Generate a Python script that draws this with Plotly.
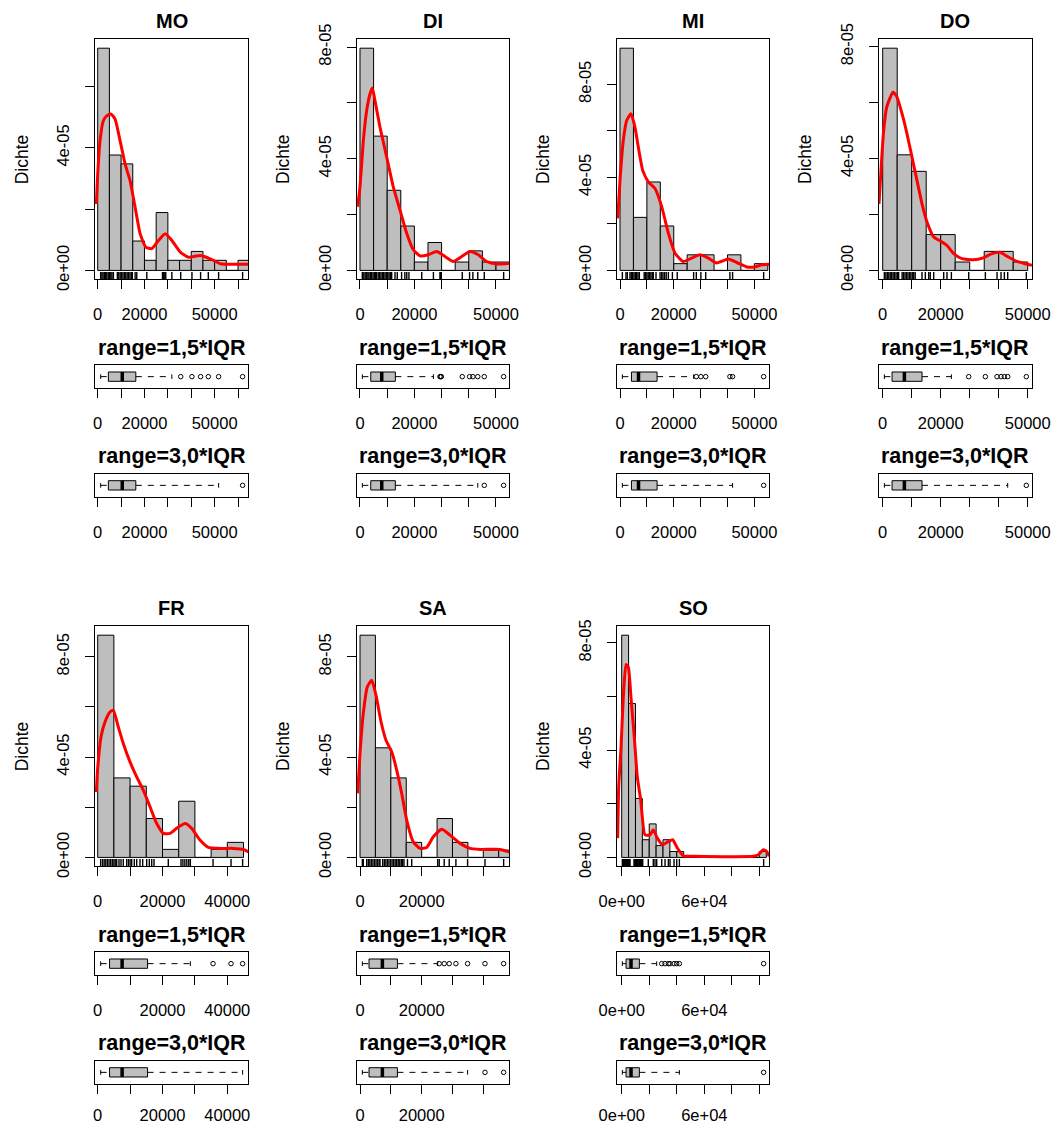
import plotly.graph_objects as go

# ---------------------------------------------------------------- data
BIN_WIDTH = 5000          # histogram bin width
E5 = 1e-5                 # densities below are given in units of 1e-05

# ---- MO
MO_dens = [7.26, 3.77, 3.48, 0.96, 0.33, 1.89, 0.33, 0.33, 0.62, 0.33, 0.33, 0.0, 0.33]
MO_kde_x = [-600, 0, 1000, 2400, 3860, 5570, 7400, 9560, 11700, 13850, 16000, 18130, 20570,
            23150, 26000, 28850, 31700, 35300, 38850, 43850, 48100, 52400, 58100, 64500]
MO_kde_y = [2.17, 3.15, 4.24, 4.89, 5.05, 5.11, 4.95, 4.24, 3.48, 2.93, 2.06, 1.20, 0.76,
            0.71, 0.98, 1.20, 0.98, 0.60, 0.43, 0.49, 0.38, 0.22, 0.20, 0.20]
MO_rug = [1270, 1800, 2300, 2900, 3400, 3900, 4500, 5000, 5600, 6100, 6700, 8400, 9000, 9600,
          10200, 10800, 11400, 12000, 12600, 13200, 13800, 14400, 14800, 16000, 16700, 21000,
          27700, 28200, 28700, 29100, 31700, 35500, 40300, 44000, 47300, 51700, 61970]
MO_stats = [1270, 4550, 10500, 16300]          # min, q1, median, q3
MO_whisk = [31700, 51700]                      # upper whisker for 1.5*IQR, 3.0*IQR
MO_out15 = [35500, 40300, 44000, 47300, 51700, 61970]
MO_out30 = [61970]
MO_xticks = [0, 10000, 20000, 30000, 40000, 50000, 60000]
MO_xtext = ["0", "", "20000", "", "", "50000", ""]
MO_yticks = [0, 2e-5, 4e-5, 6e-5]
MO_ytext = ["0e+00", "", "4e-05", ""]

# ---- DI
DI_dens = [7.96, 4.81, 2.87, 1.59, 0.30, 1.00, 0.0, 0.30, 0.70, 0.30, 0.30]
DI_kde_x = [-850, 0, 1230, 2450, 3680, 4530, 5510, 7350, 9820, 12240, 14700, 17170, 19600,
            22060, 25100, 28200, 31250, 34300, 37400, 40440, 43500, 46580, 50260, 54900]
DI_kde_y = [2.28, 2.99, 4.65, 5.72, 6.32, 6.53, 6.08, 5.13, 4.06, 2.99, 2.16, 1.33, 0.74,
            0.52, 0.56, 0.68, 0.50, 0.32, 0.50, 0.68, 0.56, 0.32, 0.23, 0.26]
DI_rug = [868, 1400, 1900, 2400, 2900, 3300, 3800, 4300, 4800, 5300, 5700, 6100, 6700, 7200,
          7700, 8200, 8700, 9200, 9700, 10200, 10700, 11200, 11650, 12870, 13700, 15300, 16500,
          17200, 18000, 22700, 27000, 29400, 29700, 29900, 37600, 40300, 41500, 43300, 45700,
          52822]
DI_stats = [868, 3960, 8000, 13000]
DI_whisk = [27000, 43300]
DI_out15 = [29400, 29700, 29900, 37600, 40300, 41500, 43300, 45700, 52822]
DI_out30 = [45700, 52822]
DI_xticks = [0, 10000, 20000, 30000, 40000, 50000]
DI_xtext = ["0", "", "20000", "", "", "50000"]
DI_yticks = [0, 2e-5, 4e-5, 6e-5, 8e-5]
DI_ytext = ["0e+00", "", "4e-05", "", "8e-05"]

# ---- MI
MI_dens = [9.55, 2.28, 3.80, 1.91, 0.29, 0.67, 0.67, 0.0, 0.67, 0.0, 0.29]
MI_kde_x = [-860, 0, 1230, 2490, 4090, 5580, 6810, 8450, 10530, 13030, 15520, 17980, 20470,
            23570, 26680, 29770, 32860, 35990, 40310, 43430, 47150, 50240, 52730, 55560]
MI_kde_y = [2.24, 3.88, 5.59, 6.44, 6.73, 6.15, 5.30, 4.30, 3.80, 3.52, 2.74, 1.60, 0.74,
            0.38, 0.53, 0.67, 0.53, 0.32, 0.49, 0.34, 0.15, 0.15, 0.24, 0.27]
MI_rug = [873, 2230, 2730, 3700, 4200, 4700, 5200, 5700, 6200, 6700, 7200, 9000, 9500, 10000,
          10500, 11000, 11500, 12000, 12400, 13400, 14900, 15500, 16000, 16600, 17200, 18000,
          19500, 21300, 27400, 28400, 30100, 31900, 40900, 41900, 53457]
MI_stats = [873, 4260, 6890, 13800]
MI_whisk = [27400, 41900]
MI_out15 = [28400, 30100, 31900, 40900, 41900, 53457]
MI_out30 = [53457]
MI_xticks = [0, 10000, 20000, 30000, 40000, 50000]
MI_xtext = ["0", "", "20000", "", "", "50000"]
MI_yticks = [0, 2e-5, 4e-5, 6e-5, 8e-5]
MI_ytext = ["0e+00", "", "4e-05", "", "8e-05"]

# ---- DO
DO_dens = [7.94, 4.13, 3.54, 1.28, 1.28, 0.30, 0.0, 0.68, 0.68, 0.30]
DO_kde_x = [-1280, -590, 230, 1380, 3550, 4930, 6660, 8380, 10100, 11830, 13550, 15280, 17590,
            19860, 22170, 24480, 27340, 31250, 34700, 37690, 40450, 43310, 46310, 49070, 51480]
DO_kde_y = [2.38, 3.57, 4.88, 5.83, 6.37, 6.19, 5.60, 4.88, 4.05, 3.21, 2.38, 1.73, 1.19,
            1.05, 0.89, 0.60, 0.42, 0.38, 0.45, 0.60, 0.65, 0.48, 0.32, 0.24, 0.18]
DO_rug = [578, 1100, 1600, 2100, 2600, 3100, 3600, 4100, 4600, 5100, 5500, 6700, 7200, 7700,
          8200, 8700, 9200, 9700, 10200, 10700, 11200, 13550, 14700, 15860, 16400, 17590, 21030,
          22170, 23680, 29660, 35400, 39430, 40800, 41950, 43100, 49522]
DO_stats = [578, 3220, 7470, 13560]
DO_whisk = [23680, 43100]
DO_out15 = [29660, 35400, 39430, 40800, 41950, 43100, 49522]
DO_out30 = [49522]
DO_xticks = [0, 10000, 20000, 30000, 40000, 50000]
DO_xtext = ["0", "", "20000", "", "", "50000"]
DO_yticks = [0, 2e-5, 4e-5, 6e-5, 8e-5]
DO_ytext = ["0e+00", "", "4e-05", "", "8e-05"]

# ---- FR
FR_dens = [8.86, 3.17, 2.84, 1.55, 0.32, 2.24, 0.0, 0.32, 0.60]
FR_kde_x = [-430, 0, 1020, 2250, 3800, 4810, 6360, 7900, 9970, 12040, 14070, 16140, 18210,
            20250, 22310, 24380, 26940, 29010, 31570, 34140, 37750, 41850, 44940, 46480]
FR_kde_y = [2.61, 3.55, 4.80, 5.40, 5.80, 5.87, 5.20, 4.54, 3.81, 3.21, 2.68, 2.02, 1.35,
            0.96, 0.96, 1.16, 1.35, 1.16, 0.69, 0.40, 0.36, 0.36, 0.32, 0.22]
FR_rug = [922, 1500, 2000, 2500, 3000, 3500, 4000, 4500, 5000, 5400, 5860, 6570, 7200, 7900,
          8950, 9500, 10000, 10490, 11300, 12040, 13060, 13890, 15120, 15930, 16670, 17380,
          21790, 25710, 26300, 26900, 27500, 28100, 28590, 35600, 41150, 44728]
FR_stats = [922, 3660, 7540, 15390]
FR_whisk = [28590, 44728]
FR_out15 = [35600, 41150, 44728]
FR_out30 = []
FR_xticks = [0, 10000, 20000, 30000, 40000]
FR_xtext = ["0", "", "20000", "", "40000"]
FR_yticks = [0, 2e-5, 4e-5, 6e-5, 8e-5]
FR_ytext = ["0e+00", "", "4e-05", "", "8e-05"]

# ---- SA
SA_dens = [8.86, 4.37, 3.17, 0.60, 0.0, 1.55, 0.60, 0.0, 0.29, 0.29]
SA_kde_x = [-750, 0, 1070, 2370, 3790, 5190, 6710, 8430, 10280, 11900, 13530, 15150, 17290,
            19460, 21630, 23780, 26500, 29190, 32440, 35680, 38920, 45410, 48430]
SA_kde_y = [2.55, 4.14, 5.74, 6.80, 7.06, 6.47, 5.47, 4.67, 4.21, 3.48, 2.55, 1.49, 0.62,
            0.36, 0.40, 0.82, 1.12, 0.89, 0.56, 0.36, 0.32, 0.32, 0.22]
SA_rug = [763, 1070, 2170, 2700, 3200, 3700, 4200, 4700, 5200, 5700, 6200, 6490, 7360, 7900,
          8400, 8900, 9400, 9900, 10400, 10900, 11400, 11900, 12400, 12900, 13400, 13800, 14270,
          15400, 16770, 25200, 25700, 27320, 28940, 31110, 34900, 40540, 46597]
SA_stats = [763, 2930, 7260, 12140]
SA_whisk = [25200, 34900]
SA_out15 = [25700, 27320, 28940, 31110, 34900, 40540, 46597]
SA_out30 = [40540, 46597]
SA_xticks = [0, 10000, 20000, 30000, 40000]
SA_xtext = ["0", "", "20000", "", ""]
SA_yticks = [0, 2e-5, 4e-5, 6e-5, 8e-5]
SA_ytext = ["0e+00", "", "4e-05", "", "8e-05"]

# ---- SO
SO_dens = [8.29, 5.74, 2.20, 0.66, 1.25, 0.44, 0.66, 0.22, 0.22, 0.0, 0.0, 0.0, 0.0, 0.0,
           0.0, 0.0, 0.0, 0.0, 0.0, 0.0, 0.22]
SO_kde_x = [-2900, -2180, -500, 1160, 3120, 4800, 6760, 9150, 11330, 13800, 16920, 20560,
            22950, 25860, 29780, 33850, 37050, 40390, 44740, 52000, 95600, 99200, 102800,
            105300, 107200]
SO_kde_y = [0.72, 2.63, 4.11, 5.96, 7.20, 7.10, 5.96, 4.48, 3.00, 2.14, 0.84, 0.84,
            1.03, 0.72, 0.47, 0.59, 0.66, 0.35, 0.06, 0.04, 0.04, 0.10, 0.29, 0.22, 0.04]
SO_rug = [475, 1160, 1700, 2200, 2700, 3200, 3700, 4200, 4700, 5200, 5600, 6030, 8930, 9500,
          10100, 10700, 11300, 11900, 12500, 13100, 13700, 14300, 15250, 19320, 22950, 24190,
          25420, 29060, 31480, 33900, 35110, 38010, 39950, 41890, 103095]
SO_stats = [475, 3150, 6780, 12830]
SO_whisk = [25420, 41890]
SO_out15 = [29060, 31480, 33900, 35110, 38010, 39950, 41890, 103095]
SO_out30 = [103095]
SO_xticks = [0, 20000, 40000, 60000, 80000, 100000]
SO_xtext = ["0e+00", "", "", "6e+04", "", ""]
SO_yticks = [0, 2e-5, 4e-5, 6e-5, 8e-5]
SO_ytext = ["0e+00", "", "4e-05", "", "8e-05"]

PANELS = ["MO", "DI", "MI", "DO", "FR", "SA", "SO"]
Y_TITLE = "Dichte"
BOX_TITLES = ["range=1,5*IQR", "range=3,0*IQR"]

g = globals()
DATA = {p: {key: g[f"{p}_{key}"] for key in
            ["dens", "kde_x", "kde_y", "rug", "stats", "whisk", "out15", "out30",
             "xticks", "xtext", "yticks", "ytext"]} for p in PANELS}

# ---------------------------------------------------------------- layout geometry (px)
W, H = 1057, 1126
FONT = "Liberation Sans, Arial, sans-serif"
GRAY = "#BEBEBE"
POS = [(0, 0), (0, 1), (0, 2), (0, 3), (1, 0), (1, 1), (1, 2)]
COLS = [(95, 248.3), (356.7, 509.3), (616.7, 769.3), (878.7, 1032)]
ROW_DY = 587
HIST_Y = (39.3, 279.3)
BOX1_Y = (365.0, 388.3)
BOX2_Y = (473.7, 497.0)
TITLE_Y = 20.7
BT_Y = (348.3, 456.0)
TICK_FS = 16.5
XSTAND = 11
XSTAND_LAST = 7
YSTAND = 9


def ydom(r, span):
    top = span[0] + r * ROW_DY
    bot = span[1] + r * ROW_DY
    return [1 - bot / H, 1 - top / H]


def axkey(prefix, n):
    return prefix + ("axis" if n == 1 else f"axis{n}")


def ref(prefix, n):
    return prefix if n == 1 else f"{prefix}{n}"


AX = dict(showline=True, mirror=True, linecolor="black", linewidth=1, showgrid=False,
          zeroline=False, ticks="outside", ticklen=9, tickwidth=1, tickcolor="black",
          tickfont=dict(family=FONT, size=TICK_FS, color="black"), fixedrange=True,
          automargin=False)

fig = go.Figure()
layout = dict(width=W, height=H, margin=dict(l=0, r=0, t=0, b=0, pad=0, autoexpand=False),
              paper_bgcolor="white", plot_bgcolor="white", showlegend=False,
              barmode="overlay", hovermode=False)
annotations = []


def add_box(n, stats, whisk_hi, outs):
    lo, q1, med, q3 = stats
    xa, ya = ref("x", n), ref("y", n)
    fig.add_trace(go.Bar(orientation="h", y=[0.5], x=[q3 - q1], base=[q1], width=[0.4],
                         marker=dict(color=GRAY, line=dict(color="black", width=1)),
                         xaxis=xa, yaxis=ya, hoverinfo="skip"))
    fig.add_trace(go.Scatter(x=[lo, q1, None, q3, whisk_hi], y=[0.5, 0.5, None, 0.5, 0.5],
                             mode="lines", line=dict(color="black", width=1, dash="6px,6px"),
                             xaxis=xa, yaxis=ya, hoverinfo="skip"))
    fig.add_trace(go.Scatter(x=[lo, lo, None, whisk_hi, whisk_hi], y=[0.4, 0.6, None, 0.4, 0.6],
                             mode="lines", line=dict(color="black", width=1),
                             xaxis=xa, yaxis=ya, hoverinfo="skip"))
    fig.add_trace(go.Scatter(x=[med, med], y=[0.3, 0.7], mode="lines",
                             line=dict(color="black", width=3.5),
                             xaxis=xa, yaxis=ya, hoverinfo="skip"))
    if outs:
        fig.add_trace(go.Scatter(x=outs, y=[0.5] * len(outs), mode="markers",
                                 marker=dict(symbol="circle-open", size=4.5, color="black",
                                             line=dict(width=1, color="black")),
                                 xaxis=xa, yaxis=ya, hoverinfo="skip", cliponaxis=True))


for k, name in enumerate(PANELS):
    r, c = POS[k]
    d = DATA[name]
    x0p, x1p = COLS[c]
    xdom = [x0p / W, x1p / W]
    lo, hi = min(d["rug"]), max(d["rug"])
    ext = 0.04 * (hi - lo)
    xr = [lo - ext, hi + ext]
    dens = [v * E5 for v in d["dens"]]
    ymax = max(dens)
    yr = [-0.04 * ymax, 1.04 * ymax]
    nh, nb1, nb2 = 3 * k + 1, 3 * k + 2, 3 * k + 3

    xcommon = dict(range=xr, tickvals=d["xticks"], ticktext=d["xtext"], domain=xdom)
    layout[axkey("x", nh)] = dict(**AX, **xcommon, anchor=ref("y", nh), ticklabelstandoff=XSTAND)
    layout[axkey("y", nh)] = dict(**AX, domain=ydom(r, HIST_Y), range=yr, anchor=ref("x", nh),
                                  tickvals=d["yticks"], ticktext=d["ytext"], tickangle=-90,
                                  ticklabelstandoff=YSTAND)
    for nb, span in ((nb1, BOX1_Y), (nb2, BOX2_Y)):
        stand = XSTAND_LAST if (nb == nb2 and r == 1) else XSTAND
        layout[axkey("x", nb)] = dict(**AX, **xcommon, anchor=ref("y", nb), ticklabelstandoff=stand)
        ybox = dict(AX)
        ybox.update(ticks="", showticklabels=False)
        layout[axkey("y", nb)] = dict(**ybox, domain=ydom(r, span), range=[0, 1],
                                      anchor=ref("x", nb))

    # histogram
    centers = [BIN_WIDTH * (i + 0.5) for i in range(len(dens))]
    fig.add_trace(go.Bar(x=centers, y=dens, width=[BIN_WIDTH] * len(dens),
                         marker=dict(color=GRAY, line=dict(color="black", width=1)),
                         xaxis=ref("x", nh), yaxis=ref("y", nh), hoverinfo="skip"))
    # density curve
    fig.add_trace(go.Scatter(x=d["kde_x"], y=[v * E5 for v in d["kde_y"]], mode="lines",
                             line=dict(color="red", width=3, shape="spline", smoothing=0.5),
                             xaxis=ref("x", nh), yaxis=ref("y", nh), hoverinfo="skip"))
    # rug
    rug_len = 0.03 * (yr[1] - yr[0])
    rx, ry = [], []
    for v in d["rug"]:
        rx += [v, v, None]
        ry += [yr[0], yr[0] + rug_len, None]
    fig.add_trace(go.Scatter(x=rx, y=ry, mode="lines", line=dict(color="black", width=1.4),
                             xaxis=ref("x", nh), yaxis=ref("y", nh), hoverinfo="skip"))

    # boxplots
    add_box(nb1, d["stats"], d["whisk"][0], d["out15"])
    add_box(nb2, d["stats"], d["whisk"][1], d["out30"])

    # titles
    xc = (x0p + x1p) / 2 / W
    annotations.append(dict(text=f"<b>{name}</b>", x=xc, y=1 - (TITLE_Y + r * ROW_DY) / H,
                            xref="paper", yref="paper", showarrow=False, xanchor="center",
                            yanchor="middle", font=dict(family=FONT, size=20, color="black")))
    for t, ty in zip(BOX_TITLES, BT_Y):
        annotations.append(dict(text=f"<b>{t}</b>", x=xc, y=1 - (ty + r * ROW_DY) / H,
                                xref="paper", yref="paper", showarrow=False, xanchor="center",
                                yanchor="middle", font=dict(family=FONT, size=21.5, color="black")))
    hc = (HIST_Y[0] + HIST_Y[1]) / 2 + r * ROW_DY
    annotations.append(dict(text=Y_TITLE, x=(x0p - 73) / W, y=1 - hc / H, textangle=-90,
                            xref="paper", yref="paper", showarrow=False, xanchor="center",
                            yanchor="middle", font=dict(family=FONT, size=17.5, color="black")))

layout["annotations"] = annotations
fig.update_layout(**layout)
fig.write_html("out.html")
